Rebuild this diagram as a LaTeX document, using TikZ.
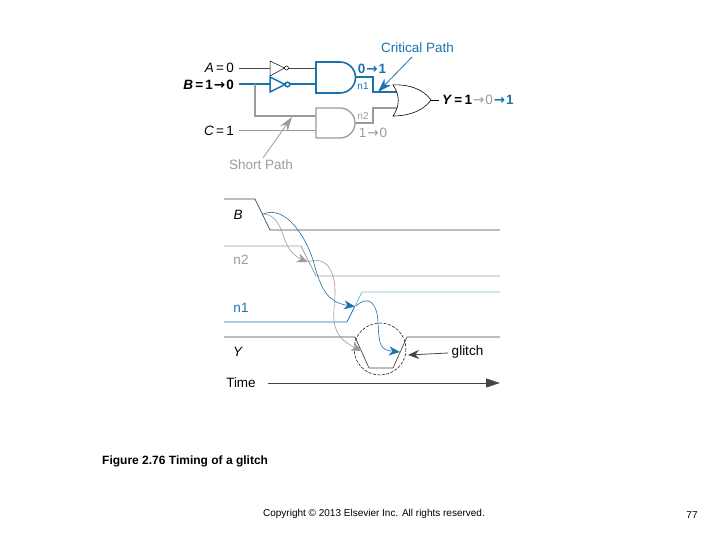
\documentclass[tikz,border=0pt]{standalone}
\usepackage{fontspec}
\setmainfont{Liberation Sans}
\newfontfamily\arrowfont{DejaVu Sans}
\usetikzlibrary{arrows.meta}
\definecolor{critblue}{RGB}{24,114,172}
\definecolor{lightblue}{RGB}{130,185,205}
\definecolor{shortgray}{RGB}{155,155,155}
\definecolor{darkline}{RGB}{70,70,70}
\tikzset{
  lab/.style={font=\fontsize{13.5}{15}\selectfont,inner sep=0pt},
  smalllab/.style={font=\fontsize{10}{12}\selectfont,inner sep=0pt},
  gatefill/.style={fill=white},
  wave/.style={line width=0.7pt,line join=round},
  causal/.style={line width=0.6pt,-{Stealth[length=11pt,width=9pt]}}
}
\newcommand{\andgate}[3]{\draw [#1,gatefill] (316,#2) -- (340,#2) arc (-90:90:{(#3-#2)/2}) -- (316,#3) -- cycle;}
\newcommand{\toarrow}{\kern1pt{\arrowfont →}\kern1pt}
\begin{document}
\begin{tikzpicture}[x=1pt,y=-1pt]
\useasboundingbox (0,0) rectangle (720,540);
% INPUT LABELS
\node [lab,anchor=east] (alab) at (234,68) {\textit{A}\,=\,0};
\node [lab,anchor=east] (blab) at (234,84.5) {\textbf{\textit{B}\,=\,1\toarrow0}};
\node [lab,anchor=east] (clab) at (234,131) {\textit{C}\,=\,1};
% WIRE POINTS
\coordinate (ain) at (239,68);
\coordinate (bin) at (239,84);
\coordinate (cin) at (239,131);
\coordinate (bsplit) at (255,84);
\coordinate (abot) at (316,116);
\coordinate (cand) at (316,131);
\coordinate (aout) at (316,68);
\coordinate (bout) at (316,84);
\coordinate (none) at (355,77);
\coordinate (ntwo) at (354,123);
\coordinate (ortop) at (397,92);
\coordinate (orbot) at (397,108);
\coordinate (ortip) at (431,100);
\coordinate (yout) at (439,100);
% WIRES
\draw [darkline,line width=0.8pt] (ain) -- (aout);
\draw [critblue,line width=1.8pt] (bin) -- (bout);
\draw [shortgray,line width=1.4pt] (bsplit) |- (abot);
\draw [shortgray,line width=1pt] (cin) -- (cand);
\draw [critblue,line width=1.8pt] (none) -- ++(18,0) |- (ortop);
\draw [shortgray,line width=1.4pt] (ntwo) -- ++(19,0) |- (orbot);
\draw [black,line width=0.6pt] (ortip) -- (yout);
% INVERTERS
\draw [black,gatefill,line width=0.5pt] (270,61) -- (284.5,68) -- (270,76) -- cycle;
\draw [black,gatefill,line width=0.5pt] (286.5,68) circle (2);
\draw [critblue,gatefill,line width=1.5pt] (270,77) -- (285,84.5) -- (270,92) -- cycle;
\draw [critblue,gatefill,line width=1.5pt] (287.5,84.5) circle (2.3);
% GATES
\andgate{critblue,line width=1.6pt}{62}{93}
\andgate{shortgray,line width=1.3pt}{108}{138}
\draw [black,gatefill,line width=0.6pt] (393,85) .. controls (410,84) and (424,90) .. (431,100)
  .. controls (424,110) and (410,116) .. (393,116) .. controls (400,106) and (400,95) .. (393,85) -- cycle;
% OUTPUT LABELS
\node [lab,anchor=west] (ylab) at (442,99.5) {\textbf{\textit{Y}\,=\,1}\textcolor{shortgray}{\toarrow0}\textcolor{critblue}{\textbf{\toarrow1}}};
\node [lab,critblue,font=\fontsize{13.5}{15}\selectfont\bfseries] (nonelab) at (372,69) {0\toarrow1};
\node [lab,shortgray] (ntwolab) at (373,132.5) {1\toarrow0};
\node [smalllab,critblue] (nonename) at (363,86.5) {n1};
\node [smalllab,shortgray] (ntwoname) at (363,116) {n2};
% PATH CALLOUTS
\node [lab,critblue] (critlab) at (417.5,48) {Critical Path};
\coordinate (crittip) at (378,92);
\draw [critblue,line width=0.8pt,-{Stealth[length=14pt,width=9pt]}] (412,57) -- (crittip);
\node [lab,shortgray] (shortlab) at (261,165) {Short Path};
\coordinate (shorttip) at (292,117);
\draw [shortgray,line width=0.8pt,-{Stealth[length=14pt,width=9pt]}] (263,158) -- (shorttip);
% TIMING LABELS
\node [lab] (bname) at (238,215) {\textit{B}};
\node [lab,shortgray] (nname) at (241,260) {n2};
\node [lab,critblue] (mname) at (241,308) {n1};
\node [lab] (yname) at (238,352) {\textit{Y}};
\node [lab] (timelab) at (241,383) {Time};
\node [lab] (glitchlab) at (467.5,352) {glitch};
% WAVEFORMS
\draw [wave,darkline] (224,199) -- (255,199) -- (270,230) -- (500,230);
\draw [wave,shortgray] (224,246) -- (301,246) -- (316,276) -- (500,276);
\draw [wave,critblue] (224,322) -- (347,322) -- (354.5,307);
\draw [wave,lightblue] (354.5,307) -- (362,292) -- (500,292);
\draw [wave,darkline] (224,337) -- (355,337) -- (369,368) -- (393,368) -- (407,337) -- (500,337);
% GLITCH CIRCLE
\draw [black,line width=0.5pt,dashed,dash pattern=on 3pt off 1.5pt] (380,349) circle (26);
% CAUSAL ARROWS
\draw [causal,critblue] (263,214) .. controls (285,205) and (305,235) .. (313,260)
  .. controls (320,285) and (325,302) .. (355,306.5);
\draw [causal,shortgray] (263,214) .. controls (282,215) and (282,240) .. (290,250)
  .. controls (293,254) and (298,258) .. (308,262);
\draw [causal,shortgray] (308,262) .. controls (325,255) and (336,270) .. (335,295)
  .. controls (334,315) and (328,335) .. (362,351);
\draw [causal,critblue] (356,306) .. controls (368,295) and (377,302) .. (378,322)
  .. controls (379,345) and (380,350) .. (400,352);
% TIME AND GLITCH ARROWS
\coordinate (timeend) at (500,383);
\draw [darkline,line width=0.8pt,-{Stealth[length=14pt,width=9pt,inset=0pt]}] (timelab.east) ++(12,0) -- (timeend);
\coordinate (glitchtip) at (408,355);
\draw [darkline,line width=0.8pt,-{Stealth[length=11pt,width=9pt]}] (448,353) -- (glitchtip);
% CAPTION
\node [anchor=west,inner sep=0pt,font=\fontsize{12}{14}\selectfont\bfseries] (caption) at (102,461) {Figure 2.76 Timing of a glitch};
\node [inner sep=0pt,font=\fontsize{10}{12}\selectfont] (copyright) at (374,514) {Copyright © 2013 Elsevier Inc. All rights reserved.};
\node [inner sep=0pt,font=\fontsize{10}{12}\selectfont] (pagenum) at (692,515) {77};
\end{tikzpicture}
\end{document}
